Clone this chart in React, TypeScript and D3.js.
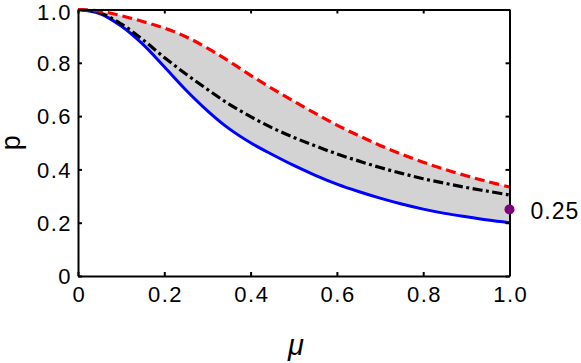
import React, { useEffect, useRef } from 'react';
import * as d3 from 'd3';

// mu grid and curve values
const muValues = [0, 0.05, 0.1, 0.15, 0.2, 0.25, 0.3, 0.35, 0.4, 0.45, 0.5, 0.55, 0.6, 0.65, 0.7, 0.75, 0.8, 0.85, 0.9, 0.95, 1.0];
const upperP = [1, 0.994, 0.977, 0.955, 0.93, 0.898, 0.855, 0.806, 0.753, 0.703, 0.656, 0.61, 0.566, 0.527, 0.49, 0.457, 0.427, 0.4, 0.376, 0.354, 0.334];
const middleP = [1, 0.988, 0.946, 0.887, 0.82, 0.758, 0.7, 0.645, 0.598, 0.556, 0.52, 0.488, 0.458, 0.432, 0.407, 0.385, 0.365, 0.348, 0.332, 0.318, 0.304];
const lowerP = [1, 0.985, 0.938, 0.87, 0.785, 0.698, 0.62, 0.553, 0.5, 0.456, 0.415, 0.378, 0.345, 0.317, 0.292, 0.27, 0.251, 0.235, 0.222, 0.21, 0.2];
const xTicks = [0, 0.2, 0.4, 0.6, 0.8, 1.0];
const yTicks = [0, 0.2, 0.4, 0.6, 0.8, 1.0];
const markerPoint = { mu: 1.0, p: 0.25, label: '0.25' };

const W = 581;
const H = 363;
const FONT = '"Liberation Sans", Arial, sans-serif';

export default function App() {
  const svgRef = useRef<SVGSVGElement>(null);

  useEffect(() => {
    if (!svgRef.current) return;
    const svg = d3.select(svgRef.current);
    svg.selectAll('*').remove();

    const margin = { top: 9.5, right: 71.5, bottom: 87, left: 78 };
    const innerW = W - margin.left - margin.right;
    const innerH = H - margin.top - margin.bottom;

    const x = d3.scaleLinear().domain([0, 1]).range([0, innerW]);
    const y = d3.scaleLinear().domain([0, 1]).range([innerH, 0]);

    const g = svg.append('g').attr('transform', `translate(${margin.left},${margin.top})`);

    const rows = muValues.map((m, i) => ({ mu: m, up: upperP[i], mid: middleP[i], low: lowerP[i] }));

    // shaded band between lower and upper bounds
    g.append('path')
      .datum(rows)
      .attr('fill', '#d3d3d3')
      .attr('d', d3.area<any>()
        .x(d => x(d.mu))
        .y0(d => y(d.low))
        .y1(d => y(d.up))
        .curve(d3.curveCatmullRom));

    const line = (key: string) => d3.line<any>()
      .x(d => x(d.mu))
      .y(d => y(d[key]))
      .curve(d3.curveCatmullRom);

    g.append('path').datum(rows)
      .attr('fill', 'none').attr('stroke', '#0000ff').attr('stroke-width', 3)
      .attr('d', line('low'));

    g.append('path').datum(rows)
      .attr('fill', 'none').attr('stroke', '#000').attr('stroke-width', 3.2)
      .attr('stroke-dasharray', '10,3.5,3,3.5')
      .attr('d', line('mid'));

    g.append('path').datum(rows)
      .attr('fill', 'none').attr('stroke', '#ff0000').attr('stroke-width', 3.2)
      .attr('stroke-dasharray', '10,5')
      .attr('d', line('up'));

    // frame + inward ticks on all sides
    const fmt = (d: number) => (d === 0 ? '0' : d.toFixed(1));
    const tick = 4;

    const bottom = g.append('g').attr('transform', `translate(0,${innerH})`)
      .call(d3.axisBottom(x).tickValues(xTicks).tickSizeInner(-tick).tickSizeOuter(0).tickPadding(10).tickFormat(fmt as any));
    const left = g.append('g')
      .call(d3.axisLeft(y).tickValues(yTicks).tickSizeInner(-tick).tickSizeOuter(0).tickPadding(6).tickFormat(fmt as any));
    const top = g.append('g')
      .call(d3.axisTop(x).tickValues(xTicks).tickSizeInner(-tick).tickSizeOuter(0).tickFormat(() => ''));
    const right = g.append('g').attr('transform', `translate(${innerW},0)`)
      .call(d3.axisRight(y).tickValues(yTicks).tickSizeInner(-tick).tickSizeOuter(0).tickFormat(() => ''));

    [bottom, left, top, right].forEach(ax => {
      ax.select('.domain').attr('stroke', '#000').attr('stroke-width', 2);
      ax.selectAll('.tick line').attr('stroke', '#000').attr('stroke-width', 2);
      ax.selectAll('text').attr('fill', '#000').style('font-family', FONT)
        .style('font-size', '22px').style('letter-spacing', '1.5px');
    });
    bottom.selectAll('text').attr('dy', '0.71em').attr('dx', '0.75px');
    // top label sits a little lower so it stays inside the figure
    left.selectAll<SVGTextElement, number>('text')
      .attr('dy', '0.35em')
      .attr('y', d => (d === 1 ? 2 : 0));

    // marker point at mu = 1
    g.append('circle')
      .attr('cx', x(markerPoint.mu))
      .attr('cy', y(markerPoint.p))
      .attr('r', 5)
      .attr('fill', '#800080');

    g.append('text')
      .attr('x', x(markerPoint.mu) + 21)
      .attr('y', y(markerPoint.p) + 2)
      .attr('dy', '0.35em')
      .style('font-family', FONT)
      .style('font-size', '23px')
      .style('letter-spacing', '1px')
      .attr('fill', '#000')
      .text(markerPoint.label);

    // axis titles
    svg.append('text')
      .attr('transform', `translate(20,${margin.top + innerH / 2}) rotate(-90)`)
      .attr('text-anchor', 'middle')
      .style('font-family', FONT)
      .style('font-size', '27px')
      .attr('fill', '#000')
      .text('p');

    svg.append('text')
      .attr('x', 296)
      .attr('y', 355)
      .attr('text-anchor', 'middle')
      .style('font-family', FONT)
      .style('font-size', '29px')
      .style('font-style', 'italic')
      .attr('fill', '#000')
      .text('μ');
  }, []);

  return (
    <svg
      ref={svgRef}
      width={W}
      height={H}
      style={{ position: 'absolute', left: 0, top: 0, background: '#fff' }}
    />
  );
}
